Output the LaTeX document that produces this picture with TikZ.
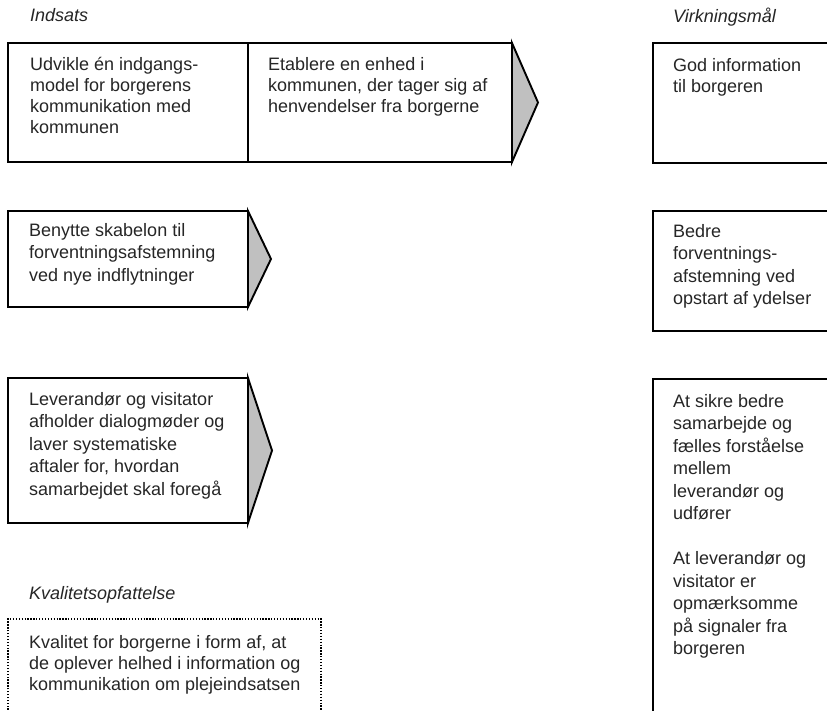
\documentclass[tikz,border=0pt]{standalone}
\usepackage{fontspec}
\setmainfont{Liberation Sans}
\definecolor{textc}{HTML}{262626}
\definecolor{chev}{HTML}{C0C0C0}
\newcommand\fl{\rule{0pt}{14pt}}
\begin{document}
\begin{tikzpicture}[x=1pt,y=-1pt,
  txt/.style={anchor=north west, inner sep=0pt, align=left, text=textc,
    font=\fontsize{18}{22.5}\selectfont},
  txtb/.style={txt, font=\fontsize{18}{21}\selectfont},
  head/.style={anchor=north west, inner sep=0pt, text=textc,
    font=\itshape\fontsize{18}{22}\selectfont},
  frame/.style={draw=black, line width=1.9pt, line join=miter},
  chevron/.style={draw=black, fill=chev, line width=1.9pt, line join=miter},
  dots/.style={draw=black, line width=1.3pt, dash pattern=on 1.3pt off 1.6pt}]
\useasboundingbox (0,0) rectangle (827,711);
\clip (0,0) rectangle (827,711);
\fill[white] (0,0) rectangle (827,711);

% headings
\node[head] (hind) at (30,7.5) {\fl Indsats};
\node[head] (hvirk) at (673,7.5) {\fl Virkningsmål};
\node[head] (hkval) at (29,585) {\fl Kvalitetsopfattelse};

% row 1
\draw[chevron] (512,43) -- (538,102.5) -- (512,162) -- cycle;
\draw[frame] (8,43) rectangle (512,162);
\draw[frame] (248,43) -- (248,162);
\node[txtb] (t1a) at (30,56) {\fl Udvikle én indgangs-\\model for borgerens\\kommunikation med\\kommunen};
\node[txtb] (t1b) at (268,56) {\fl Etablere en enhed i\\kommunen, der tager sig af\\henvendelser fra borgerne};

% row 2
\draw[chevron] (248,211) -- (271,259) -- (248,307) -- cycle;
\draw[frame] (8,211) rectangle (248,307);
\node[txt] (t2) at (29,222) {\fl Benytte skabelon til\\forventningsafstemning\\ved nye indflytninger};

% row 3
\draw[chevron] (248,378) -- (272,450.5) -- (248,523) -- cycle;
\draw[frame] (8,378) rectangle (248,523);
\node[txt] (t3) at (29,391) {\fl Leverandør og visitator\\afholder dialogmøder og\\laver systematiske\\aftaler for, hvordan\\samarbejdet skal foregå};

% right column
\draw[frame] (845,43) -- (653,43) -- (653,163) -- (845,163);
\node[txtb] (r1) at (673,57) {\fl God information\\til borgeren};

\draw[frame] (845,211) -- (653,211) -- (653,331) -- (845,331);
\node[txt] (r2) at (673,223) {\fl Bedre\\forventnings-\\afstemning ved\\opstart af ydelser};

\draw[frame] (845,379) -- (653,379) -- (653,730);
\node[txt] (r3) at (673,393) {\fl At sikre bedre\\samarbejde og\\fælles forståelse\\mellem\\leverandør og\\udfører\\[22.5pt]At leverandør og\\visitator er\\opmærksomme\\på signaler fra\\borgeren};

% quality box
\draw[dots] (8,730) -- (8,619) -- (321,619) -- (321,730);
\node[txtb] (q) at (29,634) {\fl Kvalitet for borgerne i form af, at\\de oplever helhed i information og\\kommunikation om plejeindsatsen};
\end{tikzpicture}
\end{document}
